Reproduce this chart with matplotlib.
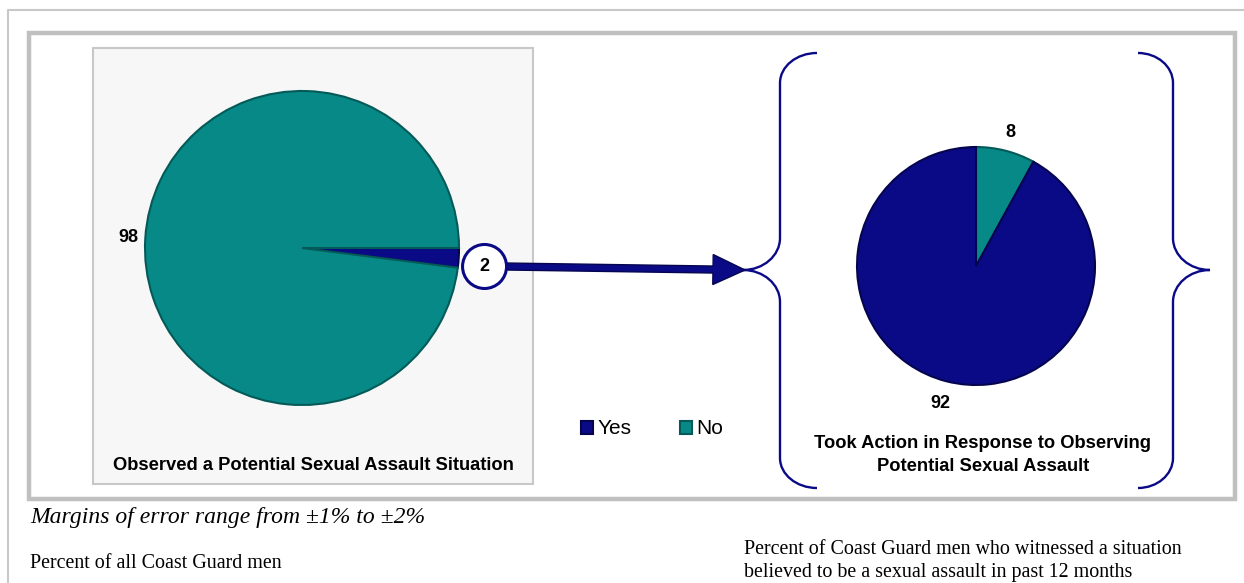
import matplotlib.pyplot as plt
import numpy as np
from matplotlib.patches import Rectangle, Circle, FancyArrow, PathPatch
from matplotlib.path import Path

W, H = 1244, 583

# data
categories = ['Yes', 'No']
observed = [2, 98]          # Observed a potential sexual assault situation
took_action = [92, 8]       # Took action in response
title_left = 'Observed a Potential Sexual Assault Situation'
title_right = 'Took Action in Response to Observing\nPotential Sexual Assault'
note = 'Margins of error range from \u00b11% to \u00b12%'
base_left = 'Percent of all Coast Guard men'
base_right = ('Percent of Coast Guard men who witnessed a situation\n'
              'believed to be a sexual assault in past 12 months')

NAVY = '#0a0a86'
TEAL = '#078a87'
colors = [NAVY, TEAL]
SANS = 'Liberation Sans'
SERIF = 'Liberation Serif'


def Y(py):
    return H - py


def brace(x_end, x_mid, x_tip, y_top, y_tip, y_bot, r1, r2):
    k = 0.552
    a = x_end - x_mid
    b = x_mid - x_tip
    pts = [(x_end, y_top),
           (x_end - k * a, y_top), (x_mid, y_top + r1 - k * r1), (x_mid, y_top + r1),
           (x_mid, y_tip - r2),
           (x_mid, y_tip - r2 + k * r2), (x_tip + k * b, y_tip), (x_tip, y_tip),
           (x_tip + k * b, y_tip), (x_mid, y_tip + r2 - k * r2), (x_mid, y_tip + r2),
           (x_mid, y_bot - r1),
           (x_mid, y_bot - r1 + k * r1), (x_end - k * a, y_bot), (x_end, y_bot)]
    codes = [Path.MOVETO] + [Path.CURVE4] * 3 + [Path.LINETO] + [Path.CURVE4] * 6 + \
            [Path.LINETO] + [Path.CURVE4] * 3
    return Path([(x, Y(y)) for x, y in pts], codes)


fig = plt.figure(figsize=(W / 100, H / 100), dpi=100)
ax = fig.add_axes([0, 0, 1, 1])

# frames
ax.plot([8, 8, W], [Y(H), Y(10), Y(10)], color='#c8c8c8', lw=1.5)
ax.add_patch(Rectangle((29, Y(499)), 1206, 466, fill=False, ec='#c0c0c0', lw=3.2))
ax.add_patch(Rectangle((93, Y(484)), 440, 436, fc='#f7f7f7', ec='#c8c8c8', lw=1.5))

# left pie
c1, r1 = (302, Y(248)), 157
w1, _ = ax.pie(observed, colors=colors, startangle=-360 * observed[0] / 100,
               center=c1, radius=r1, frame=True,
               wedgeprops=dict(edgecolor='#035a58', linewidth=1.5))
w1[0].set_edgecolor('#05054f')
mid_no = np.deg2rad(180 * observed[1] / 100)
ax.text(c1[0] + 1.11 * r1 * np.cos(mid_no), c1[1] + 1.11 * r1 * np.sin(mid_no),
        str(observed[1]), ha='center', va='center', fontsize=13,
        fontweight='bold', family=SANS)

# callout circle with "2" and arrow
mid_yes = np.deg2rad(-180 * observed[0] / 100)
cx, cy = c1[0] + 1.165 * r1 * np.cos(mid_yes), c1[1] + 1.165 * r1 * np.sin(mid_yes) - 7
ax.add_patch(FancyArrow(cx + 20, cy, 745 - cx - 20, Y(270) - cy, width=7,
                        head_width=30, head_length=32, length_includes_head=True,
                        fc=NAVY, ec='#05054f', lw=1, zorder=4))
ax.add_patch(Circle((cx, cy), 22, fc='white', ec=NAVY, lw=2.2, zorder=5))
ax.text(cx, cy, str(observed[0]), ha='center', va='center', fontsize=13,
        fontweight='bold', family=SANS, zorder=6)

# right pie
c2, r2 = (976, Y(266)), 119
w2, _ = ax.pie(took_action[::-1], colors=colors[::-1], startangle=90,
               counterclock=False, center=c2, radius=r2, frame=True,
               wedgeprops=dict(edgecolor='#05054f', linewidth=1.5))
w2[0].set_edgecolor('#035a58')
a_no = np.deg2rad(90 - 180 * took_action[1] / 100)
a_yes = np.deg2rad(90 - 360 * took_action[1] / 100 - 180 * took_action[0] / 100)
ax.text(c2[0] + 1.16 * r2 * np.cos(a_no), c2[1] + 1.16 * r2 * np.sin(a_no),
        str(took_action[1]), ha='center', va='center', fontsize=13,
        fontweight='bold', family=SANS)
ax.text(c2[0] + 1.19 * r2 * np.cos(a_yes), c2[1] + 1.19 * r2 * np.sin(a_yes),
        str(took_action[0]), ha='center', va='center', fontsize=13,
        fontweight='bold', family=SANS)

# braces
ax.add_patch(PathPatch(brace(817, 780, 743, 53, 270, 488, 30, 32),
                       fill=False, ec=NAVY, lw=1.7))
ax.add_patch(PathPatch(brace(1138, 1173, 1210, 53, 270, 488, 30, 32),
                       fill=False, ec=NAVY, lw=1.7))

ax.set_xlim(0, W)
ax.set_ylim(0, H)
ax.set_aspect('auto')
ax.axis('off')

# titles
ax.text(313, Y(465), title_left, ha='center', va='center', fontsize=13.2,
        fontweight='bold', family=SANS)
ax.text(983, Y(455), title_right, ha='center', va='center', fontsize=13.2,
        fontweight='bold', family=SANS, linespacing=1.45)

# legend
leg = ax.legend(w1, categories, loc='center', bbox_to_anchor=(652 / W, 1 - 429 / H),
                bbox_transform=fig.transFigure, ncol=2, frameon=False,
                handlelength=0.6, handleheight=0.6, handletextpad=0.2,
                columnspacing=2.3, prop=dict(family=SANS, size=15))

# notes
ax.text(30, Y(518), note, ha='left', va='center', fontsize=17, style='italic',
        family=SERIF)
ax.text(30, Y(563), base_left, ha='left', va='center', fontsize=14.4, family=SERIF)
ax.text(744, Y(561), base_right, ha='left', va='center', fontsize=14.4,
        family=SERIF, linespacing=1.3)

fig.savefig('out.png', dpi=100)
